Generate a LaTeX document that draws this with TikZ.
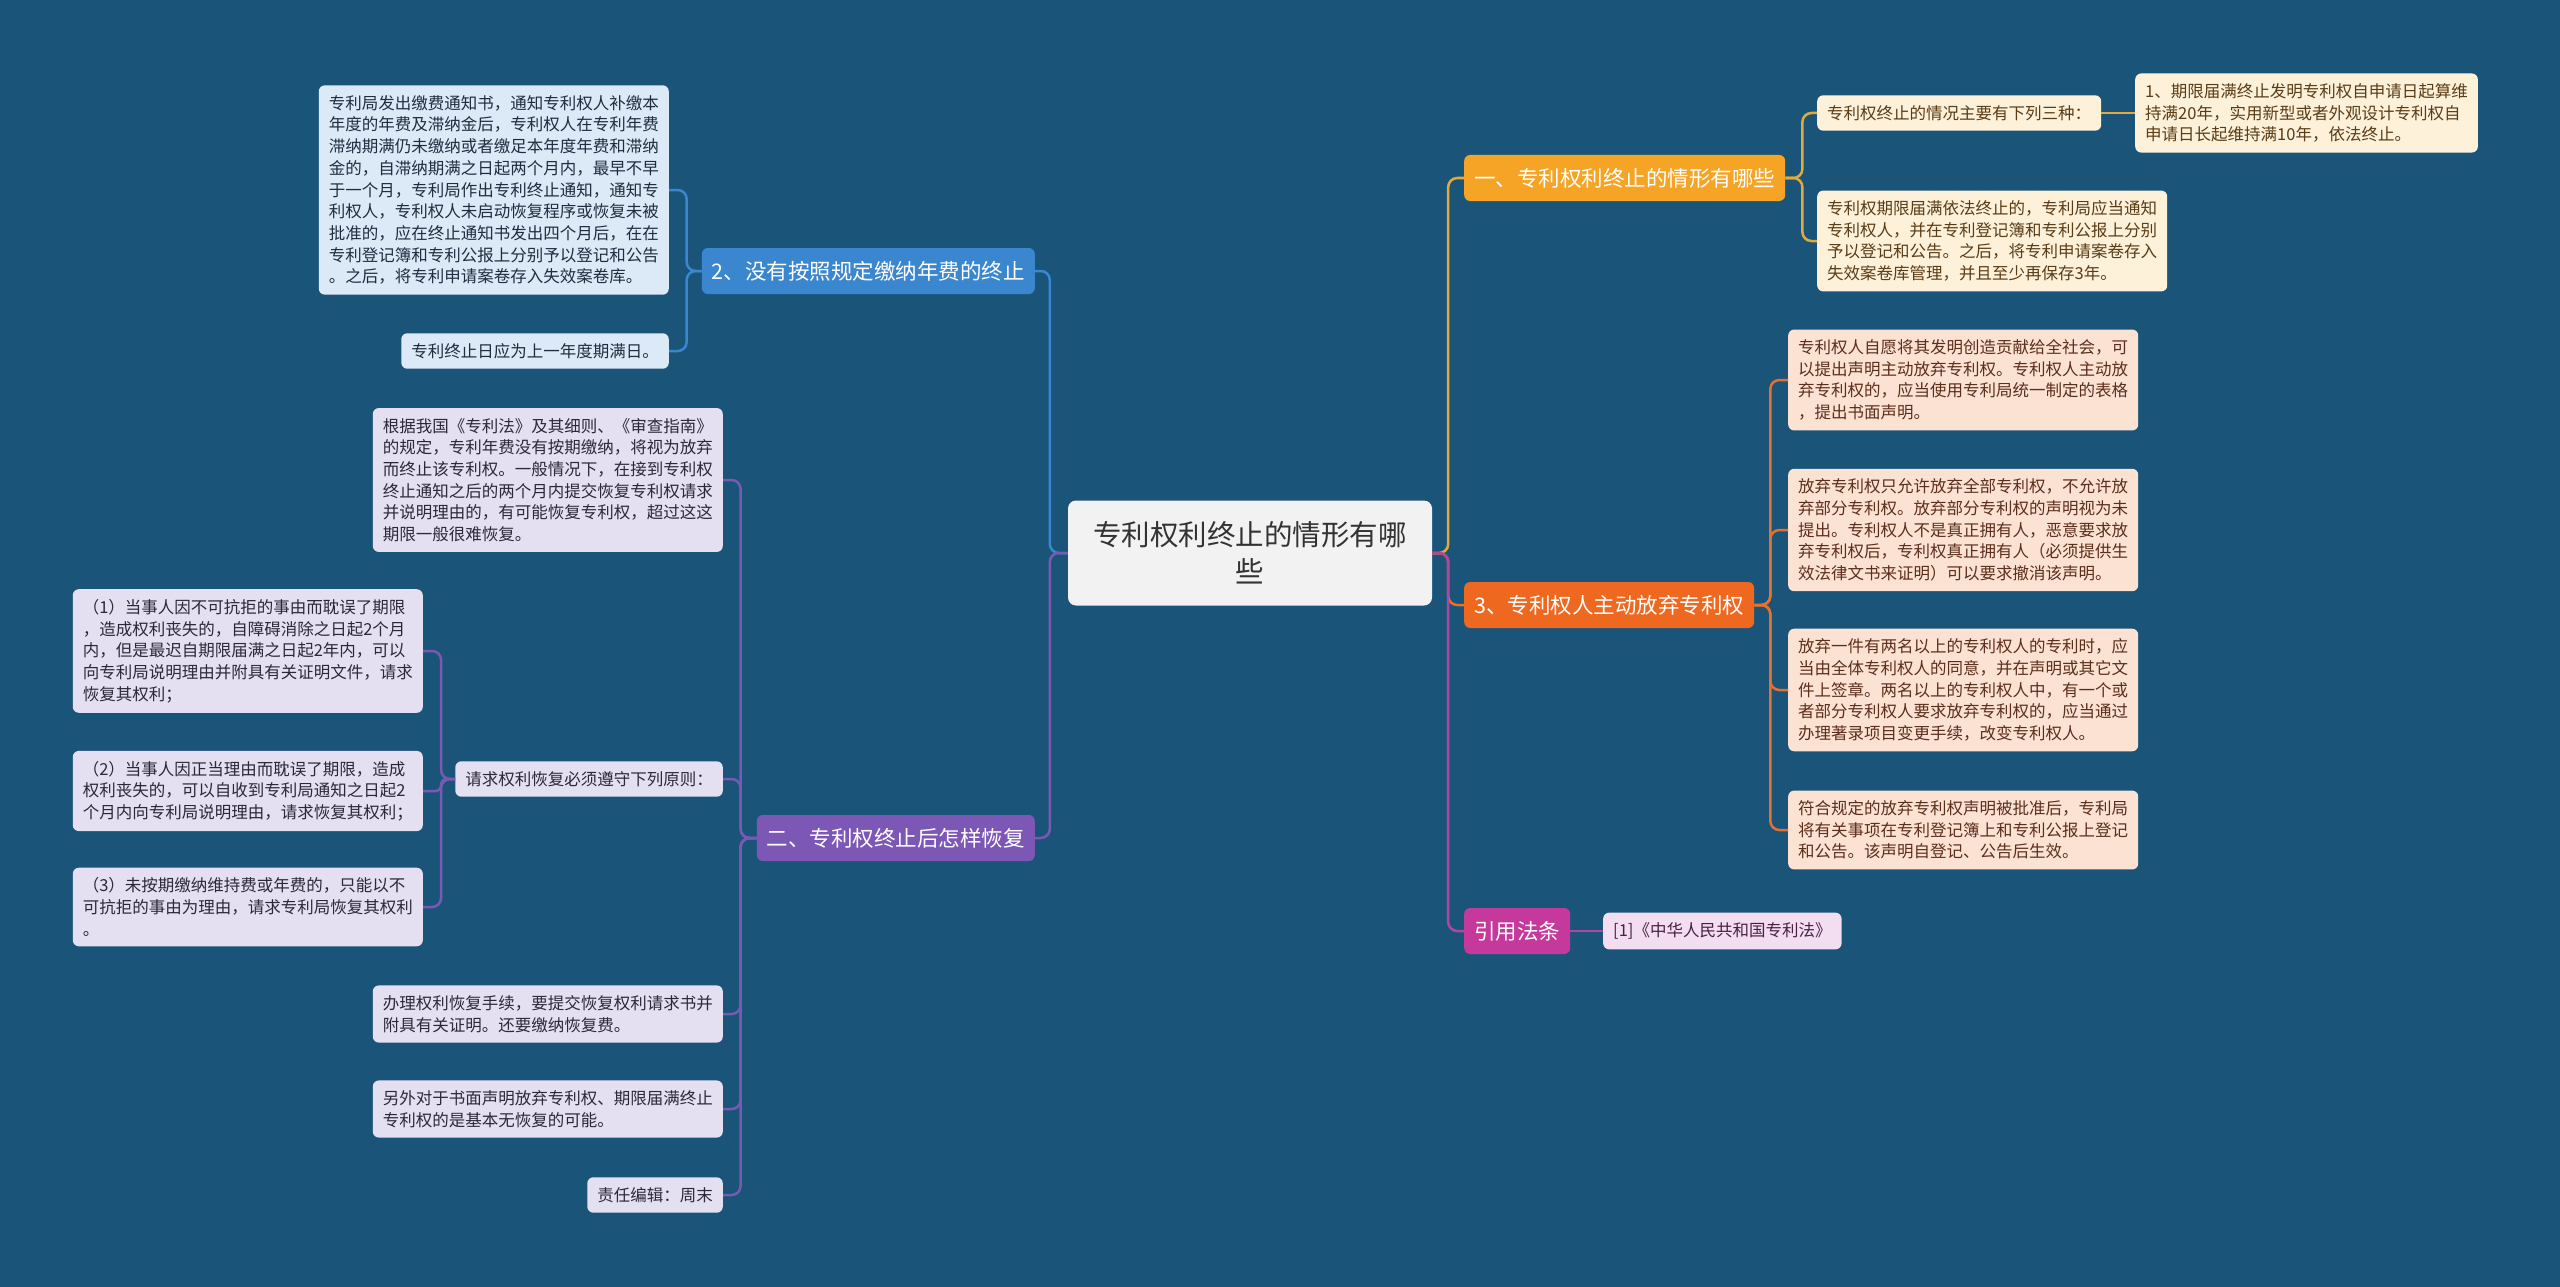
\documentclass[tikz,border=0pt]{standalone}
\usepackage{fontspec}
\setmainfont{Noto Sans CJK SC}
\usepackage{tikz}

\definecolor{bgblue}{HTML}{1B5479}
\definecolor{rootgray}{HTML}{F2F2F2}
\definecolor{rootink}{HTML}{333333}
\definecolor{stopfill}{HTML}{F6A425}
\definecolor{stopline}{HTML}{E2AA3C}
\definecolor{stopleaf}{HTML}{FDF1DA}
\definecolor{stopink}{HTML}{5A3C16}
\definecolor{waivefill}{HTML}{EF6820}
\definecolor{waiveline}{HTML}{E5712D}
\definecolor{waiveleaf}{HTML}{FCE2D3}
\definecolor{waiveink}{HTML}{5C2E1C}
\definecolor{citefill}{HTML}{C4399B}
\definecolor{citeline}{HTML}{B4459E}
\definecolor{citeleaf}{HTML}{F3DDF0}
\definecolor{citeink}{HTML}{4A1F45}
\definecolor{nofeefill}{HTML}{3A86CF}
\definecolor{nofeeline}{HTML}{3A86CF}
\definecolor{nofeeleaf}{HTML}{DCE9F6}
\definecolor{nofeeink}{HTML}{1E2E40}
\definecolor{revivefill}{HTML}{7D57B5}
\definecolor{reviveline}{HTML}{7A59B3}
\definecolor{reviveleaf}{HTML}{E5E0F1}
\definecolor{reviveink}{HTML}{2B2838}

\begin{document}
\begin{tikzpicture}[x=1pt, y=-1pt,
    topic/.style={rounded corners=6pt, inner xsep=10pt, minimum height=46pt, text=white, font=\fontsize{21.5}{26}\selectfont},
    leaf/.style={rounded corners=6pt, inner xsep=10pt, inner ysep=10pt, align=left, font=\fontsize{16.5}{21.7}\selectfont},
    link/.style={line width=2.5pt, rounded corners=9pt}]

  \fill[bgblue] (0,0) rectangle (2560,1287);
  \useasboundingbox (0,0) rectangle (2560,1287);

  \node[fill=rootgray, text=rootink, rounded corners=8pt, minimum width=364pt, minimum height=105pt, align=center, font=\fontsize{28.5}{37.5}\selectfont] (root) at (1250,553) {专利权利终止的情形有哪\\些};

  % right side
  \node[topic, fill=stopfill, anchor=west] (stop) at (1464,178) {一、专利权利终止的情形有哪些};
  \node[leaf, fill=stopleaf, text=stopink, anchor=west] (stopA) at (1817,113) {专利权终止的情况主要有下列三种：};
  \node[leaf, fill=stopleaf, text=stopink, anchor=west] (stopA1) at (2135,113) {1、期限届满终止发明专利权自申请日起算维\\持满20年，实用新型或者外观设计专利权自\\申请日长起维持满10年，依法终止。};
  \node[leaf, fill=stopleaf, text=stopink, anchor=west] (stopB) at (1817,241) {专利权期限届满依法终止的，专利局应当通知\\专利权人，并在专利登记簿和专利公报上分别\\予以登记和公告。之后，将专利申请案卷存入\\失效案卷库管理，并且至少再保存3年。};

  \node[topic, fill=waivefill, anchor=west] (waive) at (1464,605) {3、专利权人主动放弃专利权};
  \node[leaf, fill=waiveleaf, text=waiveink, anchor=west] (waiveA) at (1788,380) {专利权人自愿将其发明创造贡献给全社会，可\\以提出声明主动放弃专利权。专利权人主动放\\弃专利权的，应当使用专利局统一制定的表格\\，提出书面声明。};
  \node[leaf, fill=waiveleaf, text=waiveink, anchor=west] (waiveB) at (1788,530) {放弃专利权只允许放弃全部专利权，不允许放\\弃部分专利权。放弃部分专利权的声明视为未\\提出。专利权人不是真正拥有人，恶意要求放\\弃专利权后，专利权真正拥有人（必须提供生\\效法律文书来证明）可以要求撤消该声明。};
  \node[leaf, fill=waiveleaf, text=waiveink, anchor=west] (waiveC) at (1788,690) {放弃一件有两名以上的专利权人的专利时，应\\当由全体专利权人的同意，并在声明或其它文\\件上签章。两名以上的专利权人中，有一个或\\者部分专利权人要求放弃专利权的，应当通过\\办理著录项目变更手续，改变专利权人。};
  \node[leaf, fill=waiveleaf, text=waiveink, anchor=west] (waiveD) at (1788,830) {符合规定的放弃专利权声明被批准后，专利局\\将有关事项在专利登记簿上和专利公报上登记\\和公告。该声明自登记、公告后生效。};

  \node[topic, fill=citefill, anchor=west] (cite) at (1464,931) {引用法条};
  \node[leaf, fill=citeleaf, text=citeink, anchor=west] (citeA) at (1603,931) {[1]《中华人民共和国专利法》};

  % left side
  \node[topic, fill=nofeefill, anchor=east] (nofee) at (1035,271) {2、没有按照规定缴纳年费的终止};
  \node[leaf, fill=nofeeleaf, text=nofeeink, anchor=east] (nofeeA) at (669,190) {专利局发出缴费通知书，通知专利权人补缴本\\年度的年费及滞纳金后，专利权人在专利年费\\滞纳期满仍未缴纳或者缴足本年度年费和滞纳\\金的，自滞纳期满之日起两个月内，最早不早\\于一个月，专利局作出专利终止通知，通知专\\利权人，专利权人未启动恢复程序或恢复未被\\批准的，应在终止通知书发出四个月后，在在\\专利登记簿和专利公报上分别予以登记和公告\\。之后，将专利申请案卷存入失效案卷库。};
  \node[leaf, fill=nofeeleaf, text=nofeeink, anchor=east] (nofeeB) at (669,351) {专利终止日应为上一年度期满日。};

  \node[topic, fill=revivefill, anchor=east] (revive) at (1035,838) {二、专利权终止后怎样恢复};
  \node[leaf, fill=reviveleaf, text=reviveink, anchor=east] (reviveA) at (723,480) {根据我国《专利法》及其细则、《审查指南》\\的规定，专利年费没有按期缴纳，将视为放弃\\而终止该专利权。一般情况下，在接到专利权\\终止通知之后的两个月内提交恢复专利权请求\\并说明理由的，有可能恢复专利权，超过这这\\期限一般很难恢复。};
  \node[leaf, fill=reviveleaf, text=reviveink, anchor=east] (reviveB) at (723,779) {请求权利恢复必须遵守下列原则：};
  \node[leaf, fill=reviveleaf, text=reviveink, anchor=east] (reviveB1) at (423,651) {（1）当事人因不可抗拒的事由而耽误了期限\\，造成权利丧失的，自障碍消除之日起2个月\\内，但是最迟自期限届满之日起2年内，可以\\向专利局说明理由并附具有关证明文件，请求\\恢复其权利；};
  \node[leaf, fill=reviveleaf, text=reviveink, anchor=east] (reviveB2) at (423,791) {（2）当事人因正当理由而耽误了期限，造成\\权利丧失的，可以自收到专利局通知之日起2\\个月内向专利局说明理由，请求恢复其权利；};
  \node[leaf, fill=reviveleaf, text=reviveink, anchor=east] (reviveB3) at (423,907) {（3）未按期缴纳维持费或年费的，只能以不\\可抗拒的事由为理由，请求专利局恢复其权利\\。};
  \node[leaf, fill=reviveleaf, text=reviveink, anchor=east] (reviveC) at (723,1014) {办理权利恢复手续，要提交恢复权利请求书并\\附具有关证明。还要缴纳恢复费。};
  \node[leaf, fill=reviveleaf, text=reviveink, anchor=east] (reviveD) at (723,1109) {另外对于书面声明放弃专利权、期限届满终止\\专利权的是基本无恢复的可能。};
  \node[leaf, fill=reviveleaf, text=reviveink, anchor=east] (reviveE) at (723,1195) {责任编辑：周末};

  % connectors
  \draw[link, stopline] (root.east) -- ++(16,0) |- (stop.west);
  \draw[link, waiveline] (root.east) -- ++(16,0) |- (waive.west);
  \draw[link, citeline] (root.east) -- ++(16,0) |- (cite.west);
  \draw[link, nofeeline] (root.west) -- ++(-18,0) |- (nofee.east);
  \draw[link, reviveline] (root.west) -- ++(-18,0) |- (revive.east);

  \draw[link, stopline] (stop.east) -- ++(17,0) |- (stopA.west);
  \draw[link, stopline] (stop.east) -- ++(17,0) |- (stopB.west);
  \draw[link, stopline] (stopA.east) -- (stopA1.west);

  \draw[link, waiveline] (waive.east) -- ++(16,0) |- (waiveA.west);
  \draw[link, waiveline] (waive.east) -- ++(16,0) |- (waiveB.west);
  \draw[link, waiveline] (waive.east) -- ++(16,0) |- (waiveC.west);
  \draw[link, waiveline] (waive.east) -- ++(16,0) |- (waiveD.west);

  \draw[link, citeline] (cite.east) -- (citeA.west);

  \draw[link, nofeeline] (nofee.west) -- ++(-15,0) |- (nofeeA.east);
  \draw[link, nofeeline] (nofee.west) -- ++(-15,0) |- (nofeeB.east);

  \draw[link, reviveline] (revive.west) -- ++(-16,0) |- (reviveA.east);
  \draw[link, reviveline] (revive.west) -- ++(-16,0) |- (reviveB.east);
  \draw[link, reviveline] (revive.west) -- ++(-16,0) |- (reviveC.east);
  \draw[link, reviveline] (revive.west) -- ++(-16,0) |- (reviveD.east);
  \draw[link, reviveline] (revive.west) -- ++(-16,0) |- (reviveE.east);

  \draw[link, reviveline] (reviveB.west) -- ++(-14,0) |- (reviveB1.east);
  \draw[link, reviveline, rounded corners=5pt] (reviveB.west) -- ++(-14,0) |- (reviveB2.east);
  \draw[link, reviveline] (reviveB.west) -- ++(-14,0) |- (reviveB3.east);
\end{tikzpicture}
\end{document}
